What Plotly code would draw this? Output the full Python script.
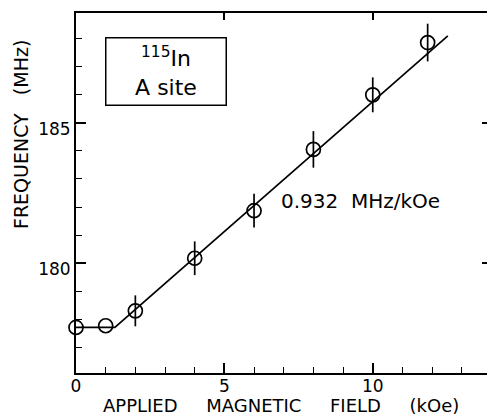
import plotly.graph_objects as go

field = [0, 1, 2, 4, 6, 8, 10, 11.85]
freq = [177.72, 177.78, 178.31, 180.18, 181.87, 184.05, 185.99, 187.85]
err = [0, 0, 0.55, 0.6, 0.6, 0.65, 0.62, 0.67]

fit_x = [0, 1.31, 12.53]
fit_y = [177.72, 177.72, 188.09]

x_major = [0, 5, 10]
y_major = [180, 185]

FONT = "DejaVu Sans"
NB = "\u00a0"

fig = go.Figure()
fig.add_trace(go.Scatter(x=fit_x, y=fit_y, mode="lines",
                         line=dict(color="black", width=1.7), showlegend=False,
                         cliponaxis=False))
fig.add_trace(go.Scatter(x=field, y=freq, mode="markers",
                         marker=dict(symbol="circle-open", size=14, color="black",
                                     line=dict(width=1.7, color="black")),
                         error_y=dict(type="data", array=err, visible=True, width=0,
                                      thickness=1.7, color="black"),
                         showlegend=False, cliponaxis=False))

# label box
fig.add_annotation(x=0.0706, y=0.9333, xref="paper", yref="paper", xanchor="left", yanchor="top",
                   text="<sup>115</sup>In<br>A site", showarrow=False, align="center",
                   valign="middle", width=119, height=66,
                   font=dict(family=FONT, size=22, color="black"),
                   bordercolor="black", borderwidth=1.5, borderpad=0)
# slope label
fig.add_annotation(x=6.84, y=182.23, xref="x", yref="y", xanchor="left", yanchor="middle",
                   text="0.932" + NB * 2 + "MHz/kOe", showarrow=False,
                   font=dict(family=FONT, size=20, color="black"))
# x-axis title
fig.add_annotation(x=0.4976, y=-(406 - 373) / 360, xref="paper", yref="paper", xanchor="center",
                   yanchor="middle", showarrow=False,
                   text=("APPLIED" + NB * 5 + "MAGNETIC" + NB * 5 + "FIELD" + NB * 5 + "(kOe)"),
                   font=dict(family=FONT, size=18, color="black"))
# y-axis title
fig.add_annotation(x=(21 - 76) / 411, y=0.661, xref="paper", yref="paper", xanchor="center",
                   yanchor="middle", showarrow=False, textangle=-90,
                   text="FREQUENCY" + NB * 3 + "(MHz)",
                   font=dict(family=FONT, size=19, color="black"))

fig.update_layout(
    width=487, height=418,
    margin=dict(l=76, r=0, t=13, b=45),
    paper_bgcolor="white", plot_bgcolor="white",
    font=dict(family=FONT, size=17, color="black"),
    xaxis=dict(range=[0, 13.85], tickvals=x_major, ticks="inside", ticklen=10, tickwidth=1.5,
               tickcolor="black", showline=True, linecolor="black", linewidth=2,
               showgrid=False, zeroline=False, ticklabelstandoff=-3,
               minor=dict(dtick=1, ticks="inside", ticklen=6, tickwidth=1.3,
                          tickcolor="black", showgrid=False)),
    yaxis=dict(range=[176.1, 188.9], tickvals=y_major, ticks="inside", ticklen=10, tickwidth=1.5,
               tickcolor="black", showline=True, linecolor="black", linewidth=2,
               showgrid=False, zeroline=False, ticklabelshift=6,
               minor=dict(dtick=1, ticks="inside", ticklen=6, tickwidth=1.3,
                          tickcolor="black", showgrid=False)),
    xaxis2=dict(range=[0, 13.85], overlaying="x", side="top", tickvals=[5, 10],
                ticks="inside", ticklen=7, tickwidth=1.5, tickcolor="black",
                showticklabels=False, showline=True, linecolor="black", linewidth=2,
                showgrid=False, zeroline=False),
    yaxis2=dict(range=[176.1, 188.9], overlaying="y", side="right", tickvals=y_major,
                ticks="inside", ticklen=5, tickwidth=1.5, tickcolor="black",
                showticklabels=False, showline=False, showgrid=False, zeroline=False),
)
fig.add_trace(go.Scatter(x=[None], y=[None], xaxis="x2", yaxis="y2", showlegend=False))

fig.write_html("out.html")
